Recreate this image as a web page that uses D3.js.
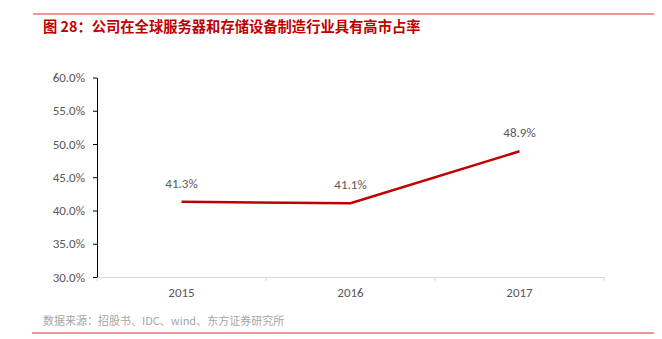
<!DOCTYPE html>
<html><head><meta charset="utf-8">
<script src="https://cdn.jsdelivr.net/npm/d3@7"></script>
<style>body{margin:0;background:#fff}svg{display:block}</style>
</head><body>
<svg id="c" width="662" height="339"></svg>
<script>
const categories = ["2015", "2016", "2017"];
const shareValues = [41.3, 41.1, 48.9];
const valueLabels = ["41.3%", "41.1%", "48.9%"];
const yTicks = [30, 35, 40, 45, 50, 55, 60];
const titleText = "图 28：公司在全球服务器和存储设备制造行业具有高市占率";
const sourceText = "数据来源：招股书、IDC、wind、东方证券研究所";

const svg = d3.select("#c");
const font = "'Noto Sans CJK SC','Noto Sans',sans-serif";
const numFont = "Calibri,'Carlito','Liberation Sans',sans-serif";

svg.append("line").attr("x1", 33).attr("x2", 654).attr("y1", 14).attr("y2", 14)
  .attr("stroke", "#E87474").attr("stroke-width", 1.6);
svg.append("text").attr("x", 43).attr("y", 32).text(titleText)
  .attr("font-family", font).attr("font-weight", "bold").attr("font-size", 14.3)
  .attr("fill", "#C00000");

const x = d3.scaleBand().domain(categories).range([97, 604]);
const y = d3.scaleLinear().domain([30, 60]).range([277, 77.5]);

// x axis
const xa = svg.append("g").attr("transform", "translate(0,277)")
  .call(d3.axisBottom(x).tickSize(0).tickPadding(11));
xa.select(".domain").attr("stroke", "#D9D9D9");
xa.selectAll("text").attr("font-family", numFont).attr("font-size", 13).attr("fill", "#595959");
const xTickPos = [97].concat(categories.map(c => x(c) + x.bandwidth()));
svg.append("g").selectAll("line").data(xTickPos).join("line")
  .attr("x1", d => d).attr("x2", d => d).attr("y1", 277).attr("y2", 281)
  .attr("stroke", "#D9D9D9");

// y axis
const ya = svg.append("g").attr("transform", "translate(97,0)")
  .call(d3.axisLeft(y).tickValues(yTicks).tickSize(4).tickSizeOuter(0).tickPadding(8)
    .tickFormat(d => d.toFixed(1) + "%"));
ya.select(".domain").attr("stroke", "#000");
ya.selectAll(".tick line").attr("stroke", "#000");
ya.selectAll("text").attr("font-family", numFont).attr("font-size", 13).attr("fill", "#595959");

// line
const line = d3.line().x((d, i) => x(categories[i]) + x.bandwidth() / 2).y(d => y(d));
svg.append("path").datum(shareValues).attr("d", line)
  .attr("fill", "none").attr("stroke", "#C00000").attr("stroke-width", 2.5);

svg.append("g").selectAll("text").data(shareValues).join("text")
  .attr("x", (d, i) => x(categories[i]) + x.bandwidth() / 2)
  .attr("y", d => y(d) - 14)
  .attr("text-anchor", "middle")
  .text((d, i) => valueLabels[i])
  .attr("font-family", numFont).attr("font-size", 13).attr("fill", "#595959");

svg.append("text").attr("x", 43).attr("y", 325).text(sourceText)
  .attr("font-family", font).attr("font-size", 11).attr("fill", "#A6A6A6");
svg.append("line").attr("x1", 32).attr("x2", 654).attr("y1", 333).attr("y2", 333)
  .attr("stroke", "#E87474").attr("stroke-width", 1.6);
</script>
</body></html>
